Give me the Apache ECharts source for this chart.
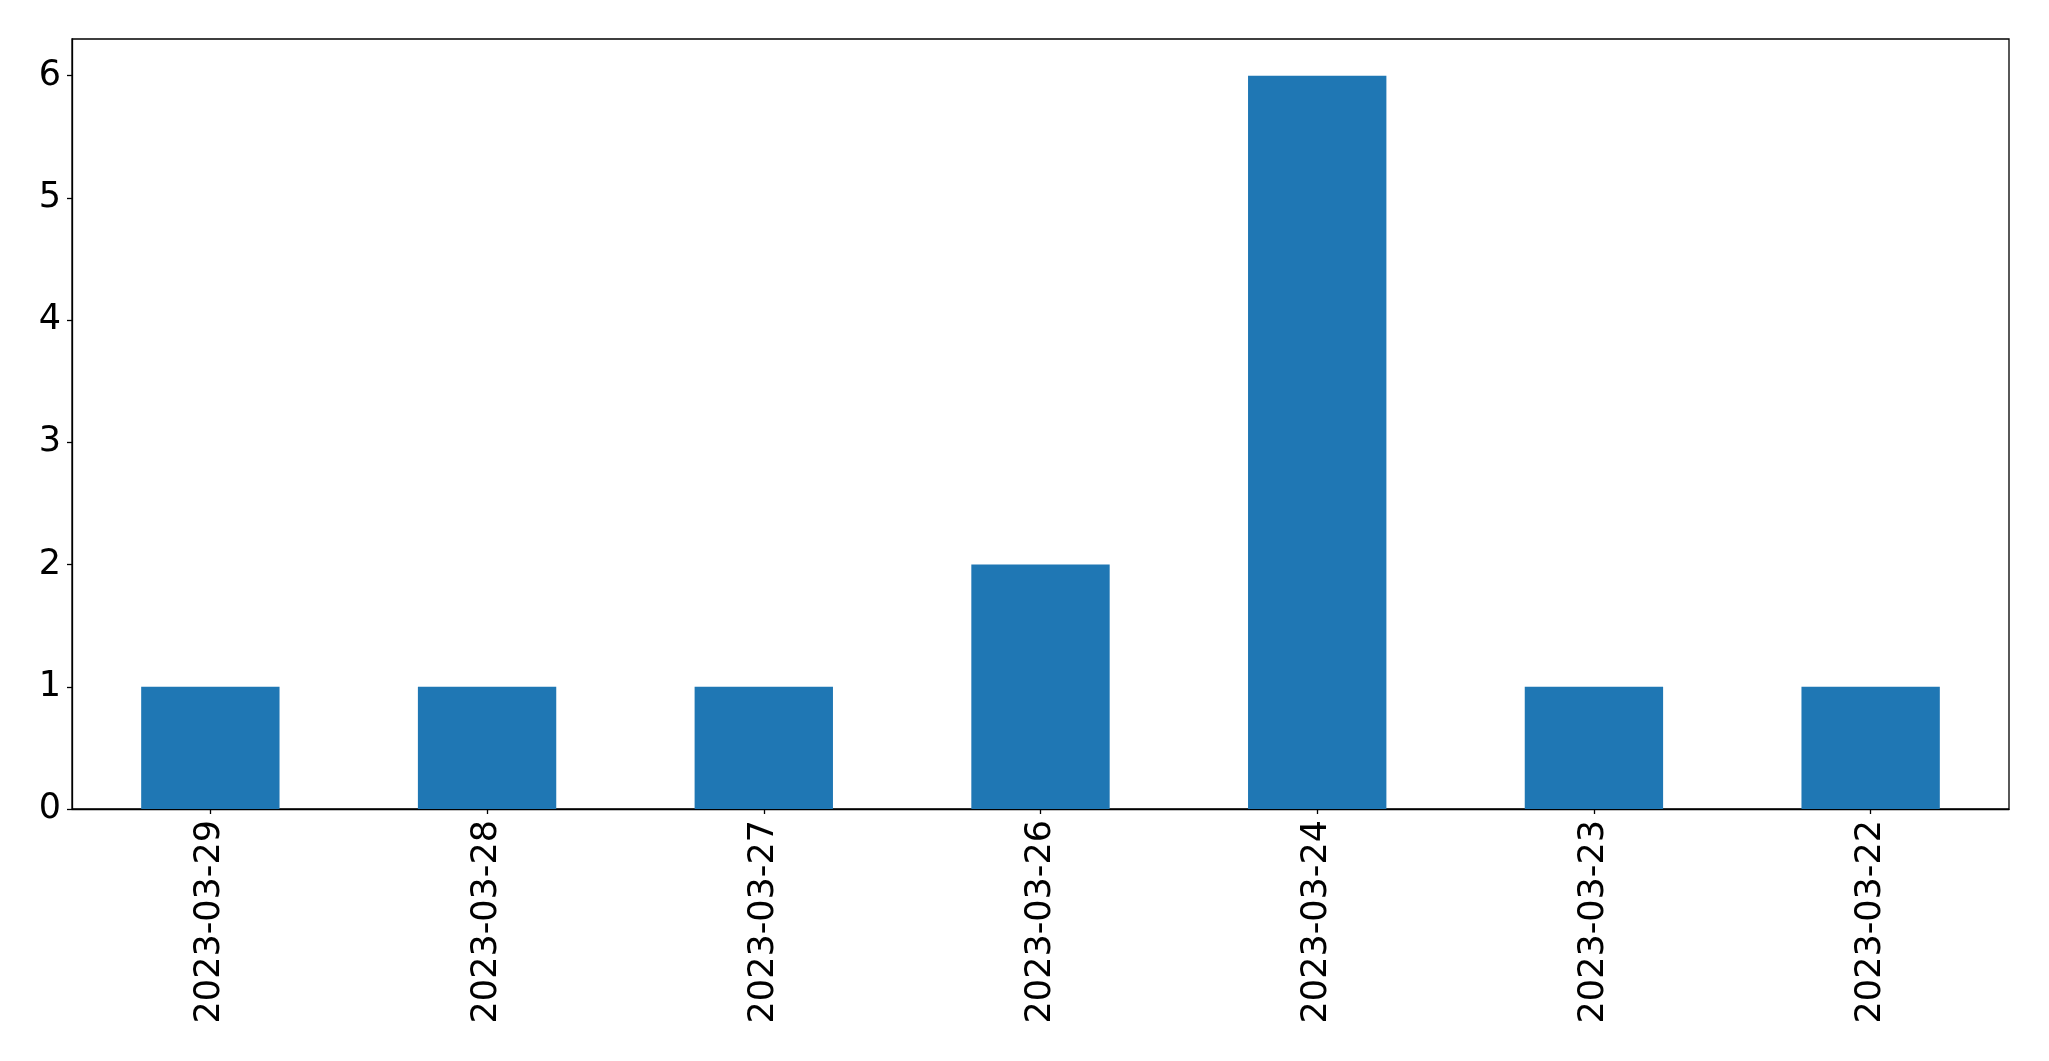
<!DOCTYPE html>
<html>
<head>
<meta charset="utf-8">
<script src="https://cdn.jsdelivr.net/npm/echarts@6/dist/echarts.min.js"></script>
<style>html,body{margin:0;padding:0;background:#fff;}#c{width:2049px;height:1061px;}</style>
</head>
<body>
<div id="c"></div>
<script>
const categories = ['2023-03-29','2023-03-28','2023-03-27','2023-03-26','2023-03-24','2023-03-23','2023-03-22'];
const counts = [1, 1, 1, 2, 6, 1, 1];
const yTicks = [0, 1, 2, 3, 4, 5, 6];

const chart = echarts.init(document.getElementById('c'), null, {renderer: 'canvas'});
const font = 'DejaVu Sans';
chart.setOption({
  animation: false,
  backgroundColor: '#fff',
  grid: {left: 72, right: 40, top: 39, bottom: 252, show: true, borderColor: '#000', borderWidth: 1.3, backgroundColor: 'transparent'},
  xAxis: {
    type: 'category',
    data: categories,
    boundaryGap: true,
    axisLine: {show: true, lineStyle: {color: '#000', width: 1.3}},
    axisTick: {show: true, alignWithLabel: true, length: 5, lineStyle: {color: '#000', width: 1.3}},
    axisLabel: {rotate: 90, color: '#000', fontSize: 35, fontFamily: font, margin: 11, interval: 0},
    splitLine: {show: false}
  },
  yAxis: {
    type: 'value',
    min: 0,
    max: 6.3,
    interval: 1,
    axisLine: {show: true, lineStyle: {color: '#000', width: 1.3}},
    axisTick: {show: true, length: 5, lineStyle: {color: '#000', width: 1.3}, customValues: yTicks},
    axisLabel: {color: '#000', fontSize: 35, fontFamily: font, margin: 11, customValues: yTicks, padding: [6, 0, 0, 0]},
    splitLine: {show: false}
  },
  series: [{
    type: 'bar',
    data: counts,
    barWidth: '50%',
    itemStyle: {color: '#1f77b4'}
  }]
});
</script>
</body>
</html>
